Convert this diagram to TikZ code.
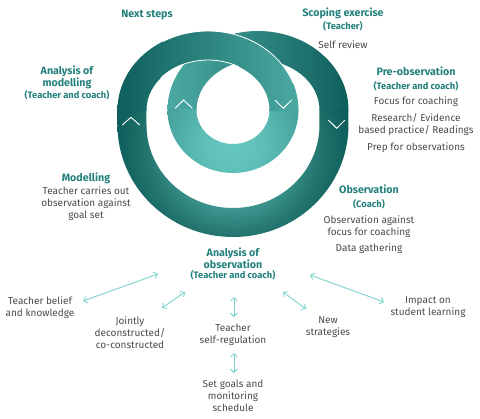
\documentclass[tikz,border=0pt]{standalone}
\usepackage{fontspec}
\setmainfont{Fira Sans}
\usetikzlibrary{arrows.meta}
\definecolor{headc}{HTML}{23807C}
\definecolor{bodyc}{HTML}{4A4A4A}
\definecolor{arrowc}{HTML}{7FD4CD}
\definecolor{r0}{HTML}{66C9C1}
\definecolor{r1}{HTML}{61C4BC}
\definecolor{r2}{HTML}{46A09A}
\definecolor{r3}{HTML}{24766F}
\definecolor{r4}{HTML}{0F5F5C}
\definecolor{r5}{HTML}{0B5553}
\definecolor{s0}{HTML}{66C9C1}
\definecolor{s1}{HTML}{5EBFB8}
\definecolor{s2}{HTML}{47A39D}
\definecolor{s3}{HTML}{3A918C}
\definecolor{tdark}{HTML}{0F5F5C}
\definecolor{tmid}{HTML}{23726E}
\definecolor{tlight}{HTML}{4CAAA3}
\pgfdeclareradialshading{bigshade}{\pgfpoint{0bp}{0bp}}{color(0bp)=(r0); color(1.9bp)=(r1); color(6.25bp)=(r2); color(10.6bp)=(r3); color(14.4bp)=(r4); color(50bp)=(r5)}
\pgfdeclareradialshading{smallshade}{\pgfpoint{0bp}{0bp}}{color(0bp)=(s0); color(7.5bp)=(s1); color(17.5bp)=(s2); color(50bp)=(s3)}
\tikzset{
  head/.style={font=\fontsize{8}{9}\selectfont\bfseries, text=headc, inner sep=0pt, align=center},
  sub/.style={font=\fontsize{7}{9}\selectfont\bfseries, text=headc, inner sep=0pt, align=center},
  body/.style={font=\fontsize{7.5}{9}\selectfont, text=bodyc, inner sep=0pt, align=center},
  arr/.style={draw=arrowc, line width=0.7pt, {Straight Barb[length=2.5pt,width=5pt]}-{Straight Barb[length=2.5pt,width=5pt]}},
  chev/.style={draw=white, line width=0.7pt},
  seam/.style={draw=white, line width=0.6pt}
}
\begin{document}
\begin{tikzpicture}[x=0.75pt,y=-0.75pt]
\useasboundingbox (0,0) rectangle (480,419);
% ---- band B (under): small loop left -> big ring right
\begin{scope}
  \clip (167.5,110) arc[start angle=180,end angle=360,x radius=90.5,y radius=79]
        -- (319.5,110) arc[start angle=360,end angle=180,x radius=61.5,y radius=50] -- cycle;
  \shade[left color=tlight, middle color=tmid, right color=tdark] (166,20) rectangle (350,126);
\end{scope}
% ---- big ring bottom with side pieces
\begin{scope}
  \clip (348.5,109) -- (348.5,125) arc[start angle=0,end angle=180,x radius=115.5,y radius=112]
        -- (117.5,109) -- (146.5,109) -- (146.5,125)
        arc[start angle=180,end angle=0,x radius=86.5,y radius=83] -- (319.5,109) -- cycle;
  \shade[shading=bigshade] (33,-50) rectangle (433,350);
\end{scope}
% ---- small loop lower half
\begin{scope}
  \clip (298.5,109) -- (298.5,110) arc[start angle=0,end angle=180,x radius=65.5,y radius=63]
        -- (167.5,109) -- (196.5,109) -- (196.5,110)
        arc[start angle=180,end angle=0,x radius=36.5,y radius=34] -- (269.5,109) -- cycle;
  \shade[shading=smallshade] (133,45) rectangle (333,245);
\end{scope}
% ---- band A (over): big ring left -> small loop right
\begin{scope}
  \clip (117.5,111) -- (117.5,110) arc[start angle=180,end angle=360,x radius=90.5,y radius=79]
        -- (298.5,111) -- (269.5,111) -- (269.5,110)
        arc[start angle=360,end angle=180,x radius=61.5,y radius=50] -- (146.5,111) -- cycle;
  \shade[left color=tdark, middle color=tmid, right color=tlight] (117,20) rectangle (300,126);
\end{scope}
\draw[seam] (208,110) ++(240:90.5 and 79) arc[start angle=240,end angle=340,x radius=90.5,y radius=79];
\draw[seam] (208,110) ++(220:61.5 and 50) arc[start angle=220,end angle=300,x radius=61.5,y radius=50];
% ---- chevrons
\draw[chev] (122.3,125) -- (131,117.3) -- (139.7,125);
\draw[chev] (175,108.3) -- (183.7,100) -- (192.3,108.3);
\draw[chev] (275,100) -- (283.3,108.3) -- (291.7,100);
\draw[chev] (328.3,120) -- (336.7,128.3) -- (345,120);
% ---- texts
\node[head] (next) at (147,15) {Next steps};
\node[head] (scop) at (343,13) {Scoping exercise};
\node[sub] (scopw) at (343,26) {(Teacher)};
\node[body] (self) at (343,45) {Self review};
\node[head] (pre) at (416,71) {Pre-observation};
\node[sub] (prew) at (416,86) {(Teacher and coach)};
\node[body] (focus) at (416,102) {Focus for coaching};
\node[body] (research) at (416,125) {Research/ Evidence\\based practice/ Readings};
\node[body] (prep) at (416,148) {Prep for observations};
\node[head] (obs) at (369,189) {Observation};
\node[sub] (obsw) at (369,204) {(Coach)};
\node[body] (obsag) at (369,226.5) {Observation against\\focus for coaching};
\node[body] (data) at (369,249) {Data gathering};
\node[head] (anmod) at (67,77) {Analysis of\\modelling};
\node[sub] (anmodw) at (67,95) {(Teacher and coach)};
\node[head] (mod) at (86,178) {Modelling};
\node[body] (modtxt) at (86,204) {Teacher carries out\\observation against\\goal set};
\node[head] (anobs) at (233,258) {Analysis of\\observation};
\node[sub] (anobsw) at (233,275) {(Teacher and coach)};
\node[body] (belief) at (40,307.5) {Teacher belief\\and knowledge};
\node[body] (joint) at (130,333) {Jointly\\deconstructed/\\co-constructed};
\node[body] (selfreg) at (233,335) {Teacher\\self-regulation};
\node[body] (newstr) at (328,327.5) {New\\strategies};
\node[body] (impact) at (428,307.5) {Impact on\\student learning};
\node[body] (goals) at (233,396) {Set goals and\\monitoring\\schedule};
% ---- arrows
\coordinate (a1s) at (158,274); \coordinate (a1e) at (83,301);
\coordinate (a2s) at (185,292); \coordinate (a2e) at (162,308);
\coordinate (a3s) at (234,297); \coordinate (a3e) at (234,317);
\coordinate (a4s) at (283,292); \coordinate (a4e) at (306,309);
\coordinate (a5s) at (310,275); \coordinate (a5e) at (384,302);
\coordinate (a6s) at (234,353); \coordinate (a6e) at (234,373);
\draw[arr] (a1s) -- (a1e);
\draw[arr] (a2s) -- (a2e);
\draw[arr] (a3s) -- (a3e);
\draw[arr] (a4s) -- (a4e);
\draw[arr] (a5s) -- (a5e);
\draw[arr] (a6s) -- (a6e);
\end{tikzpicture}
\end{document}
